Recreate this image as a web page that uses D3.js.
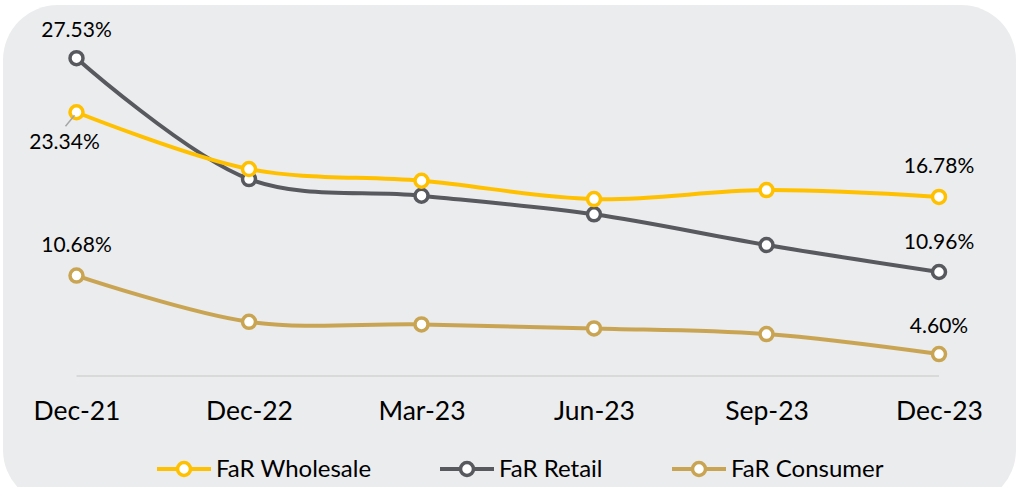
<!DOCTYPE html>
<html>
<head>
<meta charset="utf-8">
<script src="https://cdn.jsdelivr.net/npm/d3@7"></script>
<style>
  html, body { margin: 0; padding: 0; background: #ffffff; }
  svg { display: block; font-family: Lato, "Open Sans", sans-serif; }
</style>
</head>
<body>
<div id="chart"></div>
<script>
const categories = ['Dec-21', 'Dec-22', 'Mar-23', 'Jun-23', 'Sep-23', 'Dec-23'];
const wholesale = [23.34, 18.94, 18.03, 16.61, 17.31, 16.78];
const retail = [27.53, 18.16, 16.87, 15.43, 13.05, 10.96];
const consumer = [10.68, 7.10, 6.90, 6.59, 6.15, 4.60];
const seriesNames = ['FaR Wholesale', 'FaR Retail', 'FaR Consumer'];
const seriesColors = ['#ffc000', '#58595f', '#c9a553'];

const width = 1030, height = 487;

const svg = d3.select('#chart')
  .append('svg')
  .attr('width', width)
  .attr('height', height);

// rounded panel
svg.append('rect')
  .attr('x', 3).attr('y', 5)
  .attr('width', 1013).attr('height', 500)
  .attr('rx', 55).attr('ry', 55)
  .style('fill', '#ebeced');

const x = d3.scalePoint()
  .domain(categories)
  .range([76.5, 939]);

const y = d3.scaleLinear()
  .domain([2.9, 30])
  .range([376, 26.3]);

// baseline
svg.append('line')
  .attr('x1', x(categories[0])).attr('x2', x(categories[categories.length - 1]))
  .attr('y1', y(2.9)).attr('y2', y(2.9))
  .style('stroke', '#d9d9d9')
  .style('stroke-width', 2);

const xAxis = svg.append('g')
  .attr('transform', `translate(0,${y(2.9)})`)
  .call(d3.axisBottom(x).tickSize(0).tickPadding(0));
xAxis.select('.domain').remove();
xAxis.selectAll('text')
  .attr('y', 44)
  .attr('dy', 0)
  .style('font-family', 'Lato, sans-serif')
  .style('font-size', '26.5px')
  .style('fill', '#000');

const series = [wholesale, retail, consumer];
const line = d3.line()
  .x((d, i) => x(categories[i]))
  .y(d => y(d))
  .curve(d3.curveCatmullRom.alpha(0.5));

// draw consumer first, wholesale on top
[2, 1, 0].forEach(k => {
  const g = svg.append('g');
  g.append('path')
    .datum(series[k])
    .attr('d', line)
    .style('fill', 'none')
    .style('stroke', seriesColors[k])
    .style('stroke-width', 4)
    .style('stroke-linecap', 'round');
  g.selectAll('circle')
    .data(series[k])
    .enter()
    .append('circle')
    .attr('cx', (d, i) => x(categories[i]))
    .attr('cy', d => y(d))
    .attr('r', 6.5)
    .style('fill', '#fff')
    .style('stroke', seriesColors[k])
    .style('stroke-width', 3.5);
});

// data labels on first and last points
const labelFmt = d => d.toFixed(2) + '%';
const labels = [
  { s: 1, i: 0, dx: 0, dy: -21 },
  { s: 0, i: 0, dx: -12, dy: 37 },
  { s: 2, i: 0, dx: 0, dy: -24 },
  { s: 0, i: 5, dx: 0, dy: -24 },
  { s: 1, i: 5, dx: 0, dy: -23 },
  { s: 2, i: 5, dx: 0, dy: -21 }
];
svg.selectAll('.dlabel')
  .data(labels)
  .enter()
  .append('text')
  .attr('class', 'dlabel')
  .attr('x', d => x(categories[d.i]) + d.dx)
  .attr('y', d => y(series[d.s][d.i]) + d.dy)
  .attr('text-anchor', 'middle')
  .style('font-size', '21px')
  .style('fill', '#000')
  .text(d => labelFmt(series[d.s][d.i]));

// leader line for the 23.34% label
svg.append('line')
  .attr('x1', x(categories[0]) - 11).attr('y1', y(wholesale[0]) + 14)
  .attr('x2', x(categories[0]) - 2).attr('y2', y(wholesale[0]) + 3)
  .style('stroke', '#a6a6a6')
  .style('stroke-width', 1.5);

// legend
const legendX = [157, 440, 672];
const legend = svg.selectAll('.legend')
  .data(seriesNames)
  .enter()
  .append('g')
  .attr('class', 'legend')
  .attr('transform', (d, i) => `translate(${legendX[i]},469)`);
legend.append('line')
  .attr('x1', 0).attr('x2', 54)
  .style('stroke', (d, i) => seriesColors[i])
  .style('stroke-width', 4);
legend.append('circle')
  .attr('cx', 27)
  .attr('r', 6.5)
  .style('fill', '#fff')
  .style('stroke', (d, i) => seriesColors[i])
  .style('stroke-width', 3.5);
legend.append('text')
  .attr('x', 59)
  .attr('dy', '0.35em')
  .style('font-size', '24px')
  .style('fill', '#000')
  .text(d => d);
</script>
</body>
</html>
